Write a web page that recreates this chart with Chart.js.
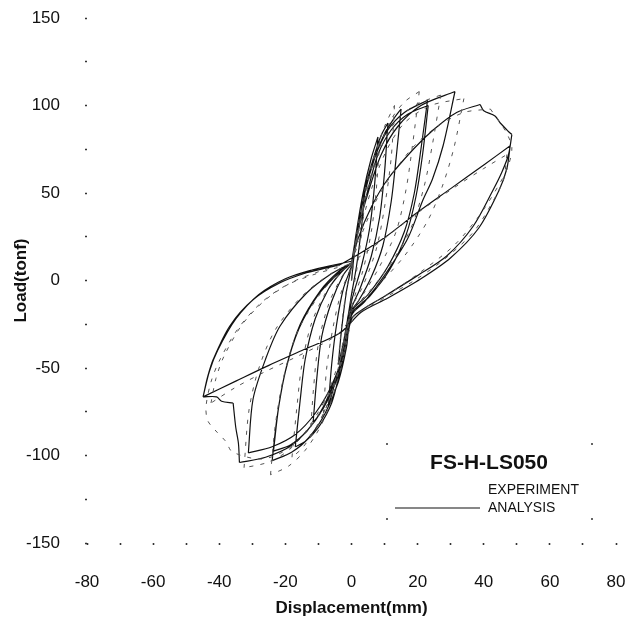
<!DOCTYPE html>
<html>
<head>
<meta charset="utf-8">
<script src="https://cdn.jsdelivr.net/npm/chart.js@4/dist/chart.umd.min.js"></script>
<style>
  html, body { margin: 0; padding: 0; background: #fff; }
  canvas { display: block; }
</style>
</head>
<body>
<canvas id="chart" width="640" height="622"></canvas>
<script>
// ---- data: [displacement (mm), load (tonf)] ----
const xTickLabels = [-80, -60, -40, -20, 0, 20, 40, 60, 80];
const yTickLabels = [-150, -100, -50, 0, 50, 100, 150];

// analysis (solid line), one array per cycle
const anaCycle1 = [[0,0],[1,18],[2.5,36],[4,50],[3,30],[1.5,8],[0,-8],[-1,-20],[-2.5,-36],[-4,-48],[-3,-28],[-1.5,-6],[0,8]];
const anaCycle2 = [[0,8],[1.5,28],[3.5,50],[6,70],[8,82],[7,55],[5.5,30],[3,8],[0,-12],[-1.5,-30],[-3.5,-48],[-5.5,-62],[-7,-72],[-6,-48],[-4.5,-25],[-2.5,-5],[0,8]];
const anaCycle3 = [[0,8],[1.5,28],[4,52],[7,72],[9,83],[11,90],[10,62],[8.5,36],[6,14],[2.5,-5],[0,-16],[-1.5,-32],[-4,-52],[-7,-66],[-9.5,-76],[-11.6,-81],[-10.5,-56],[-9,-32],[-6,-12],[-2.5,3],[0,9]];
const anaCycle4 = [[0,9],[1.5,26],[4,50],[7,70],[10,84],[13,93],[15,98],[13.5,70],[12,45],[9.5,20],[6,2],[2,-12],[-1,-20],[-1.5,-35],[-3.5,-52],[-6,-70],[-10,-84],[-14,-92],[-17,-95],[-15.5,-68],[-14,-45],[-11,-22],[-7,-5],[-3,5],[0,10]];
const anaCycle5 = [[0,10],[1.5,27],[4,50],[7,70],[11,86],[16,96],[23,103],[21,75],[19,50],[16,28],[11,8],[5,-8],[0,-18],[-1.5,-38],[-4,-58],[-8,-76],[-13,-90],[-18,-98],[-24,-103],[-22.5,-78],[-20,-52],[-16,-28],[-10,-8],[-4,4],[0,10]];
const anaCycle6 = [[0,10],[2,28],[5,52],[8,72],[12,86],[17,95],[23.2,100],[21.5,72],[19.5,48],[16.5,26],[11.5,6],[5.5,-9],[0,-19],[-1.5,-37],[-4.5,-57],[-8.5,-73],[-13.5,-86],[-18.5,-94],[-23.6,-97.5],[-22,-72],[-19.5,-48],[-15.5,-25],[-9.5,-6],[-4,5],[0,10]];
const anaCycle7 = [[0,10],[1.5,26],[5,50],[9,72],[14,88],[21,100],[31.3,108],[27.7,77],[24.5,58],[21.6,46],[17,24],[10,3],[4,-12],[0,-20],[-2,-40],[-6,-60],[-11,-76],[-17,-88],[-24,-95],[-31.2,-98.5],[-29.8,-68],[-26,-45],[-21.6,-26],[-13.5,-7],[-6,4],[0,10]];
const anaCycle8 = [[0,10],[2,24],[6,42],[11,58],[18.7,75],[24.7,86],[31.8,96],[38.9,100.6],[40,97],[43.4,94],[45,90],[47.4,85.3],[48.5,83.4],[47.5,72],[45.5,62],[42.9,52],[36.8,31],[28.8,14],[19.7,2.5],[10,-9],[3,-17],[0,-22],[-2,-40],[-6,-62],[-11,-80],[-18,-94],[-26,-101],[-33.9,-104],[-34.2,-93],[-35,-84],[-35.8,-70],[-39.3,-69],[-40.8,-66.5],[-44.9,-66.5],[-43.5,-55],[-41.8,-45],[-36.8,-26],[-29.7,-10.9],[-21.6,-1.3],[-13.6,4.4],[-7.5,7.2],[-3.5,9]];
const anaCycle9 = [[-3.5,9],[3,16],[10.6,25.3],[20,39],[30,52.5],[40,66],[48,77],[47,64],[44.5,51],[38.5,30],[30,13],[21,1],[11,-10],[3,-18],[-3.5,-30],[-15,-40],[-25,-48.5],[-35,-57.5],[-44.9,-66.5],[-43,-52],[-40.5,-40],[-35,-22],[-28,-8],[-20,1],[-12,6],[-5,9],[0,11]];

// experiment (dashed line)
const expCycle1 = [[0,0],[1,16],[2.5,33],[4,45],[3,26],[1.5,5],[0,-10],[-1,-22],[-2.5,-35],[-4,-46],[-3,-26],[-1.5,-5],[0,8]];
const expCycle2 = [[0,8],[1.5,26],[3.5,47],[6,66],[8.5,80],[7.5,52],[6,28],[3.5,6],[0.5,-12],[-1.5,-30],[-4,-50],[-6,-64],[-8.5,-76],[-7.5,-50],[-5.5,-26],[-3,-6],[0,8]];
const expCycle3 = [[0,8],[2,28],[4.5,52],[7.5,74],[10,88],[13,100],[12,70],[10,42],[7.5,18],[3.5,-3],[0,-16],[-2,-34],[-4.5,-55],[-7.5,-72],[-10,-82],[-12.5,-90],[-11.5,-62],[-10,-36],[-7,-14],[-3,2],[0,9]];
const expCycle4 = [[0,9],[2,28],[5,54],[8.5,76],[12,92],[16,102],[20.5,108],[18.5,78],[16.5,52],[13.5,28],[8.5,8],[3.5,-8],[0,-18],[-2,-37],[-4.5,-56],[-8,-74],[-12,-88],[-15,-96],[-18,-101],[-16.5,-72],[-15,-48],[-12,-24],[-7.5,-6],[-3,5],[0,10]];
const expCycle5 = [[0,10],[2,28],[5,52],[8.5,74],[13,90],[19,100],[27,106],[24.5,78],[22,54],[18,30],[12,10],[5.5,-6],[0,-18],[-2,-40],[-5,-62],[-9,-82],[-14,-97],[-19,-106],[-24.5,-111],[-23,-82],[-20.5,-55],[-16.5,-30],[-10,-9],[-4,4],[0,10]];
const expCycle6 = [[0,10],[2.5,28],[6,52],[10.5,74],[16,90],[24,100],[34,104],[31,76],[27.5,54],[23,34],[16,14],[8,-3],[2,-15],[-1,-24],[-3.5,-44],[-7.5,-66],[-13,-84],[-19,-97],[-25.5,-104],[-32.5,-107],[-31,-74],[-28,-50],[-23,-28],[-15,-9],[-7,3],[0,10]];
const expCycle7 = [[0,10],[3,26],[7,44],[12,60],[19,77],[26,88],[34,96],[42,98],[45,90],[47,84],[48.5,76],[47.5,66],[45,56],[39,38],[31,20],[21,5],[11,-8],[3,-17],[0,-24],[-2.5,-44],[-7,-66],[-12.5,-84],[-19,-96],[-27,-102],[-36,-98],[-38,-92],[-41,-86],[-43.5,-80],[-44,-72],[-42.5,-58],[-40,-46],[-34.5,-28],[-27.5,-13],[-20,-3],[-12,3],[-5,7],[-1,9]];
const expCycle8 = [[-1,9],[5,17],[12,27],[21,40],[31,53],[40,64],[47,72],[46,58],[43,46],[37,28],[28,12],[19,0],[9,-11],[1,-20],[-5,-32],[-16,-43],[-26,-52],[-35,-61],[-42.5,-70],[-41,-56],[-38.5,-43],[-33,-25],[-26,-11],[-18,-1],[-10,5],[-3,9]];

const analysisCycles = [anaCycle1, anaCycle2, anaCycle3, anaCycle4, anaCycle5, anaCycle6, anaCycle7, anaCycle8, anaCycle9];
const experimentCycles = [expCycle1, expCycle2, expCycle3, expCycle4, expCycle5, expCycle6, expCycle7, expCycle8];

// break the line at every sharp turn (load reversals, jags) so corners stay sharp
function toPoints(cycles) {
    const out = [];
    cycles.forEach(c => {
        for (let i = 0; i < c.length; i++) {
            out.push({ x: c[i][0], y: c[i][1] });
            if (i > 0 && i < c.length - 1) {
                // rough screen aspect: 1 mm ~ 3.3 px, 1 tonf ~ 1.75 px
                const ax = (c[i][0] - c[i - 1][0]) * 3.3, ay = (c[i][1] - c[i - 1][1]) * 1.75;
                const bx = (c[i + 1][0] - c[i][0]) * 3.3, by = (c[i + 1][1] - c[i][1]) * 1.75;
                const la = Math.hypot(ax, ay), lb = Math.hypot(bx, by);
                if (la > 0 && lb > 0 && (ax * bx + ay * by) / (la * lb) < 0.6) {
                    out.push({ x: null, y: null });
                    out.push({ x: c[i][0], y: c[i][1] });
                }
            }
        }
        out.push({ x: null, y: null });
    });
    return out;
}

const FONT = "'Liberation Sans', Arial, Helvetica, sans-serif";

const legendBox = {
    id: 'legendBox',
    afterDraw(chart) {
        const ctx = chart.ctx;
        ctx.save();
        ctx.fillStyle = '#111';
        // corner marks of the legend frame
        [[387, 444], [592, 444], [387, 519], [592, 519]].forEach(p => {
            ctx.fillRect(p[0] - 0.8, p[1] - 0.8, 1.6, 1.6);
        });
        ctx.textBaseline = 'middle';
        ctx.textAlign = 'center';
        ctx.font = 'bold 21px ' + FONT;
        ctx.fillText('FS-H-LS050', 489, 463);
        ctx.textAlign = 'left';
        ctx.font = '14px ' + FONT;
        ctx.fillText('EXPERIMENT', 488, 490);
        ctx.fillText('ANALYSIS', 488, 508);
        ctx.strokeStyle = '#111';
        ctx.lineWidth = 1.2;
        ctx.beginPath();
        ctx.moveTo(395, 508);
        ctx.lineTo(480, 508);
        ctx.stroke();
        ctx.restore();
    }
};

new Chart(document.getElementById('chart'), {
    type: 'line',
    data: {
        datasets: [
            {
                label: 'EXPERIMENT',
                data: toPoints(experimentCycles),
                borderColor: '#555',
                borderWidth: 1,
                borderDash: [4, 7],
                pointRadius: 0,
                tension: 0.3,
                fill: false
            },
            {
                label: 'ANALYSIS',
                data: toPoints(analysisCycles),
                borderColor: '#111',
                borderWidth: 1.2,
                pointRadius: 0,
                tension: 0.3,
                fill: false
            }
        ]
    },
    options: {
        responsive: false,
        animation: false,
        events: [],
        devicePixelRatio: 1,
        layout: { padding: { top: 18, right: 24, left: 0, bottom: 0 } },
        plugins: { legend: { display: false }, tooltip: { enabled: false } },
        scales: {
            x: {
                type: 'linear',
                min: -80, max: 80,
                afterFit: s => { s.height = 79; s.paddingLeft = 0; s.paddingRight = 0; },
                border: { display: false },
                grid: { drawOnChartArea: false, drawTicks: true, tickLength: 2, tickWidth: 1.6, color: '#333' },
                ticks: {
                    stepSize: 10,
                    padding: 27,
                    color: '#111',
                    font: { family: FONT, size: 17 },
                    maxRotation: 0,
                    autoSkip: false,
                    callback: v => xTickLabels.includes(v) ? String(v) : ''
                },
                title: {
                    display: true,
                    text: 'Displacement(mm)',
                    color: '#111',
                    font: { family: FONT, size: 17, weight: 'bold' },
                    padding: { top: 3, bottom: 3 }
                }
            },
            y: {
                min: -150, max: 150,
                afterFit: s => { s.width = 87; s.paddingTop = 0; s.paddingBottom = 0; },
                border: { display: false },
                grid: { drawOnChartArea: false, drawTicks: true, tickLength: 2, tickWidth: 1.6, color: '#333' },
                ticks: {
                    stepSize: 25,
                    padding: 25,
                    color: '#111',
                    font: { family: FONT, size: 17 },
                    autoSkip: false,
                    callback: v => yTickLabels.includes(v) ? String(v) : ''
                },
                title: {
                    display: true,
                    text: 'Load(tonf)',
                    color: '#111',
                    font: { family: FONT, size: 17, weight: 'bold' },
                    padding: { top: 11, bottom: 11 }
                }
            }
        }
    },
    plugins: [legendBox]
});
</script>
</body>
</html>
